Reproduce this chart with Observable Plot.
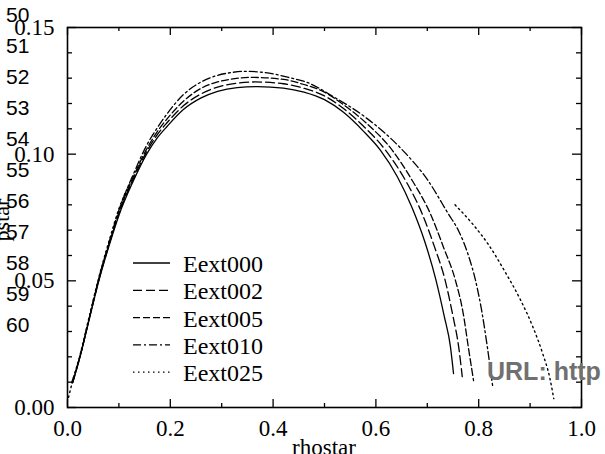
<!DOCTYPE html>
<html><head><meta charset="utf-8">
<script src="https://cdn.jsdelivr.net/npm/d3@7"></script>
<script src="https://cdn.jsdelivr.net/npm/@observablehq/plot@0.6"></script>
<style>
body{margin:0;background:#fff;}
#wrap{position:relative;width:605px;height:454px;overflow:hidden;background:#fff;}
#wrap svg.overlay{position:absolute;left:0;top:0;pointer-events:none;}
</style></head><body><div id="wrap"></div>
<script>
// ---- data ----
const seriesNames = ["Eext000","Eext002","Eext005","Eext010","Eext025"];

const rhostar000 = [0.01,0.024,0.043,0.062,0.082,0.101,0.128,0.154,0.175,0.194,0.226,0.26,0.292,0.33,0.37,0.42,0.46,0.5,0.537,0.576,0.609,0.642,0.67,0.695,0.716,0.733,0.745,0.751];
const pstar000   = [0.0098,0.0197,0.0354,0.0508,0.0646,0.0764,0.0894,0.100,0.1065,0.111,0.1177,0.1222,0.1248,0.1263,0.1267,0.1261,0.1245,0.1215,0.1165,0.109,0.1015,0.091,0.079,0.0655,0.051,0.036,0.024,0.0134];

const rhostar002 = [0.01,0.024,0.043,0.062,0.082,0.101,0.128,0.154,0.175,0.194,0.226,0.26,0.292,0.33,0.365,0.42,0.46,0.5,0.537,0.576,0.619,0.658,0.69,0.713,0.735,0.75,0.761,0.768];
const pstar002   = [0.0098,0.0198,0.0356,0.0511,0.065,0.077,0.0902,0.101,0.1078,0.1125,0.1192,0.1238,0.1265,0.128,0.1285,0.1278,0.126,0.123,0.118,0.111,0.1015,0.0895,0.0765,0.064,0.05,0.036,0.024,0.0122];

const rhostar005 = [0.01,0.024,0.043,0.062,0.082,0.101,0.128,0.154,0.175,0.194,0.226,0.26,0.292,0.325,0.358,0.42,0.46,0.5,0.537,0.58,0.632,0.671,0.706,0.732,0.755,0.77,0.78,0.79];
const pstar005   = [0.0098,0.0199,0.0358,0.0514,0.0654,0.0776,0.091,0.102,0.109,0.114,0.121,0.126,0.1285,0.1298,0.1303,0.1295,0.1275,0.1245,0.1195,0.1125,0.1015,0.0895,0.0765,0.063,0.05,0.037,0.0236,0.0106];

const rhostar010 = [0.008,0.024,0.043,0.062,0.082,0.101,0.128,0.154,0.175,0.194,0.226,0.26,0.29,0.318,0.345,0.385,0.43,0.47,0.518,0.58,0.648,0.702,0.741,0.761,0.78,0.794,0.806,0.817,0.827];
const pstar010   = [0.0098,0.020,0.036,0.0518,0.066,0.0785,0.092,0.1035,0.1105,0.116,0.1236,0.1285,0.131,0.1322,0.1327,0.1322,0.1303,0.128,0.1226,0.1145,0.1024,0.0894,0.0764,0.0697,0.06,0.05,0.038,0.0236,0.0087];

// Eext025: rising branch near origin, gap, then high-density branch
const rhostar025 = [0.002,0.01,0.024,0.043,0.062,0.082,0.101,0.12, null, 0.754,0.79,0.82,0.85,0.88,0.905,0.925,0.938,0.946];
const pstar025   = [0.004,0.0105,0.0205,0.0365,0.0522,0.0665,0.079,0.088, null, 0.080,0.072,0.064,0.054,0.043,0.032,0.021,0.012,0.0035];

const xMajor = [0.0,0.2,0.4,0.6,0.8,1.0];
const xMinor = [0.1,0.3,0.5,0.7,0.9];
const yMajor = [0.00,0.05,0.10,0.15];
const yMinor = [0.01,0.02,0.03,0.04,0.06,0.07,0.08,0.09,0.11,0.12,0.13,0.14];
const sideLabels = ["50","51","52","53","54","55","56","57","58","59","60"];
const urlText = "URL: http";
const xLabel = "rhostar";
const yLabel = "pstar";

// ---- styles ----
const dashes = [null, "9,4", "7,3", "8,3,2,3", "1.5,3.5"];
const strokes = ["#000","#000","#000","#000","#000"];

const xs = [rhostar000, rhostar002, rhostar005, rhostar010, rhostar025];
const ys = [pstar000, pstar002, pstar005, pstar010, pstar025];
const rows = [];
seriesNames.forEach((s, i) => xs[i].forEach((x, j) => rows.push({series: s, x, y: ys[i][j]})));

const W = 605, H = 454, mL = 67, mR = 24, mT = 27, mB = 47;
const pH = H - mT - mB, pW = W - mL - mR;
const serif = "'Liberation Serif', 'Times New Roman', Times, serif";
const sans = "'Liberation Sans', Arial, Helvetica, sans-serif";

const lineMarks = seriesNames.map((s, i) => Plot.line(rows.filter(r => r.series === s), {
  x: "x", y: "y", stroke: strokes[i], strokeWidth: i === 4 ? 1.4 : 1.3,
  strokeDasharray: dashes[i], curve: "monotone-x"
}));

const plot = Plot.plot({
  width: W, height: H,
  marginLeft: mL, marginRight: mR, marginTop: mT, marginBottom: mB,
  x: {domain: [0, 1]},
  y: {domain: [0, 0.15]},
  style: {fontFamily: serif, fontSize: "23px", color: "#000", background: "#fff", overflow: "visible"},
  marks: [
    ...lineMarks,
    Plot.tickX(xMajor, {x: d => d, insetTop: pH - 8, strokeWidth: 1.3}),
    Plot.tickX(xMajor, {x: d => d, insetBottom: pH - 8, strokeWidth: 1.3}),
    Plot.tickX(xMinor, {x: d => d, insetTop: pH - 4, strokeWidth: 1.3}),
    Plot.tickX(xMinor, {x: d => d, insetBottom: pH - 4, strokeWidth: 1.3}),
    Plot.tickY(yMajor, {y: d => d, insetRight: pW - 9, strokeWidth: 1.3}),
    Plot.tickY(yMajor, {y: d => d, insetLeft: pW - 9, strokeWidth: 1.3}),
    Plot.tickY(yMinor, {y: d => d, insetRight: pW - 5, strokeWidth: 1.3}),
    Plot.tickY(yMinor, {y: d => d, insetLeft: pW - 5, strokeWidth: 1.3}),
    Plot.frame({strokeWidth: 1.6}),
    Plot.axisX(xMajor, {tickSize: 0, tickPadding: 12, tickFormat: d => d.toFixed(1), label: null, fontSize: 23, fontFamily: serif}),
    Plot.axisY(yMajor, {tickSize: 0, tickPadding: 13, tickFormat: d => d.toFixed(2), label: null, fontSize: 23, fontFamily: serif})
  ]
});
const wrap = document.getElementById("wrap");
wrap.appendChild(plot);

// ---- overlay: axis titles, legend, side labels, URL text ----
const ov = d3.select(wrap).append("svg").attr("class", "overlay")
  .attr("width", W).attr("height", H);

ov.append("text").attr("x", mL + pW / 2).attr("y", 455).attr("text-anchor", "middle").text(xLabel)
  .style("font-family", serif).style("font-size", "23px").attr("fill", "#000");
ov.append("text").attr("transform", "translate(9,220) rotate(-90)").attr("text-anchor", "middle").text(yLabel)
  .style("font-family", serif).style("font-size", "22px").attr("fill", "#000");

const legY0 = 263, legDy = 27.3;
seriesNames.forEach((s, i) => {
  const y = legY0 + i * legDy;
  ov.append("line").attr("x1", 133).attr("x2", 170).attr("y1", y).attr("y2", y)
    .attr("stroke", strokes[i]).attr("stroke-width", 1.3)
    .attr("stroke-dasharray", dashes[i]);
  ov.append("text").attr("x", 183).attr("y", y + 9).text(s)
    .style("font-family", serif).style("font-size", "24px").attr("fill", "#000");
});

sideLabels.forEach((t, i) => {
  ov.append("text").attr("x", 6).attr("y", 22 + i * 31).text(t)
    .style("font-family", sans).style("font-size", "21px").attr("fill", "#000");
});

ov.append("text").attr("x", 487).attr("y", 380).text(urlText)
  .style("font-family", sans).style("font-size", "25px")
  .style("font-weight", "bold").attr("fill", "#707070");
</script>
</body></html>
